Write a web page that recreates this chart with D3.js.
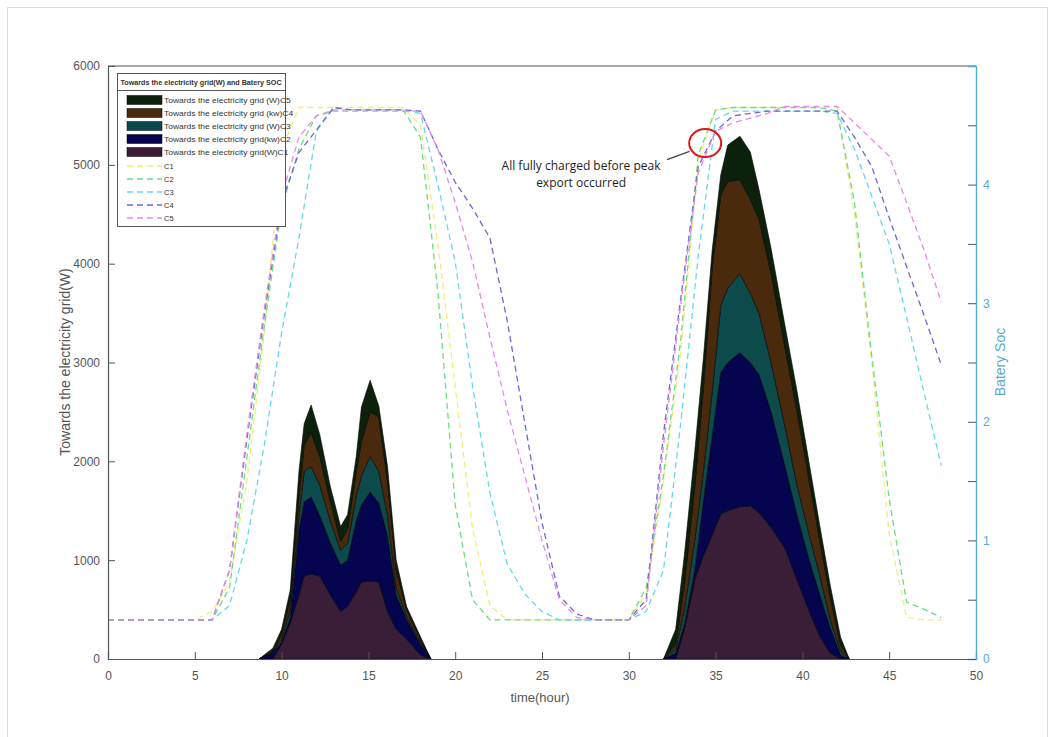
<!DOCTYPE html>
<html><head><meta charset="utf-8">
<script src="https://cdn.jsdelivr.net/npm/d3@7"></script>
<style>
body{margin:0;background:#fff;}
svg{display:block;font-family:"Liberation Sans",Arial,sans-serif;}
</style>
</head><body>
<svg id="c" width="1055" height="737"></svg>
<script>
// ---------- DATA ----------
// Stacked export to grid (W), per community
const areaTime = [8.7, 9.5, 10.0, 10.5, 11.0, 11.3, 11.7, 12.2, 12.8, 13.4, 13.8, 14.3, 14.6, 15.1, 15.6, 16.1, 16.6, 17.2, 18.0, 18.6,
                  32.0, 32.7, 33.2, 33.8, 34.3, 34.8, 35.3, 35.7, 36.4, 37.0, 37.5, 38.2, 39.0, 39.7, 40.4, 41.0, 41.6, 42.2, 42.7];
const gridC1 = [0, 0, 150, 360, 650, 840, 860, 840, 650, 480, 530, 680, 780, 790, 780, 480, 300, 200, 40, 0,
                0, 0, 300, 800, 1050, 1250, 1470, 1500, 1540, 1550, 1480, 1330, 1120, 800, 480, 230, 60, 0, 0];
const gridC2 = [0, 60, 20, 60, 650, 750, 780, 610, 530, 470, 470, 720, 780, 900, 800, 770, 350, 200, 110, 0,
                0, 60, 50, 100, 550, 1000, 1430, 1500, 1560, 1450, 1400, 1170, 830, 650, 520, 420, 260, 40, 0];
const gridC3 = [0, 10, 30, 80, 150, 310, 305, 310, 220, 150, 170, 250, 290, 360, 320, 200, 70, 30, 20, 0,
                0, 40, 150, 300, 300, 450, 680, 750, 800, 700, 620, 500, 400, 300, 250, 200, 80, 40, 0];
const gridC4 = [0, 10, 50, 100, 200, 260, 345, 290, 200, 90, 140, 250, 350, 450, 550, 350, 180, 70, 30, 0,
                0, 50, 250, 550, 850, 1250, 1120, 1080, 950, 950, 950, 900, 800, 750, 550, 350, 230, 60, 0];
const gridC5 = [0, 30, 50, 100, 250, 220, 280, 220, 150, 150, 150, 150, 350, 320, 110, 150, 100, 30, 25, 0,
                0, 150, 300, 350, 300, 180, 200, 370, 440, 480, 300, 250, 220, 200, 170, 150, 120, 80, 0];

// Battery SOC (right axis), hourly
const socTime = [0,1,2,3,4,5,6,7,8,9,10,11,12,13,14,15,16,17,18,19,20,21,22,23,24,25,26,27,28,29,30,
                 31,32,33,34,35,36,37,38,39,40,41,42,43,44,45,46,47,48];
const socC1 = [0.33,0.33,0.33,0.33,0.33,0.33,0.4,0.65,1.5,2.75,4.3,4.65,4.65,4.65,4.65,4.65,4.65,4.65,4.5,3.5,2.3,1.1,0.45,0.33,0.33,0.33,0.33,0.33,0.33,0.33,0.33,
               0.55,1.5,2.6,4.2,4.63,4.65,4.65,4.65,4.65,4.65,4.65,4.65,3.75,2.5,1.05,0.35,0.33,0.33];
const socC2 = [0.33,0.33,0.33,0.33,0.33,0.33,0.33,0.6,1.7,2.8,3.8,4.3,4.58,4.63,4.63,4.63,4.63,4.63,4.4,3.1,1.3,0.5,0.33,0.33,0.33,0.33,0.33,0.33,0.33,0.33,0.33,
               0.6,1.55,2.7,4.25,4.63,4.65,4.65,4.65,4.65,4.65,4.65,4.62,3.85,2.55,1.35,0.48,0.42,0.35];
const socC3 = [0.33,0.33,0.33,0.33,0.33,0.33,0.33,0.45,1.0,1.8,2.75,3.55,4.45,4.65,4.63,4.63,4.63,4.63,4.6,4.0,3.35,2.3,1.4,0.8,0.55,0.4,0.33,0.33,0.33,0.33,0.33,
               0.4,0.75,2.0,3.4,4.55,4.62,4.62,4.62,4.62,4.62,4.62,4.6,4.3,3.9,3.5,2.88,2.25,1.63];
const socC4 = [0.33,0.33,0.33,0.33,0.33,0.33,0.33,0.75,1.85,2.9,3.85,4.27,4.46,4.65,4.63,4.63,4.63,4.63,4.62,4.3,4.02,3.8,3.55,2.85,2.0,1.15,0.53,0.38,0.33,0.33,0.33,
               0.5,1.9,3.05,4.15,4.45,4.58,4.6,4.62,4.62,4.62,4.62,4.62,4.4,4.15,3.72,3.31,2.9,2.48];
const socC5 = [0.33,0.33,0.33,0.33,0.33,0.33,0.33,0.75,1.9,2.95,3.9,4.4,4.58,4.62,4.62,4.62,4.62,4.62,4.62,4.3,3.85,3.35,2.71,2.1,1.55,1.0,0.5,0.35,0.33,0.33,0.33,
               0.45,1.8,3.0,4.1,4.45,4.52,4.56,4.6,4.66,4.66,4.66,4.66,4.52,4.38,4.24,3.85,3.45,3.01];

const xTicks = [0,5,10,15,20,25,30,35,40,45,50];
const yLeftTicks = [0,1000,2000,3000,4000,5000,6000];
const yRightTicks = [0,0.5,1,1.5,2,2.5,3,3.5,4,4.5];
const areaKeys = ["C1","C2","C3","C4","C5"];
const areaLabels = ["Towards the electricity grid (W)C5","Towards the electricity grid (kw)C4","Towards the electricity grid (W)C3","Towards the electricity grid(kw)C2","Towards the electricity grid(W)C1"];
const lineLabels = ["C1","C2","C3","C4","C5"];

// ---------- STYLE ----------
const areaColors = {C1:"#3a1d37", C2:"#05044f", C3:"#0d4a4b", C4:"#4a2a0d", C5:"#0c210c"};
const lineColors = {C1:"#eeee7a", C2:"#6edb84", C3:"#66d6ee", C4:"#6a68d4", C5:"#e68ae6"};
const axisGray = "#555";
const blue = "#55a9d6";

const svg = d3.select("#c");
const x = d3.scaleLinear().domain([0,50]).range([108,976]);
const yL = d3.scaleLinear().domain([0,6000]).range([659,66]);
const yR = d3.scaleLinear().domain([0,5]).range([659,66]);

// outer faint frame
svg.append("rect").attr("x",7.5).attr("y",7.5).attr("width",1040).attr("height",740)
  .attr("fill","none").attr("stroke","#dedede");

// ---------- AREAS ----------
const rows = areaTime.map((t,i)=>({t, C1:gridC1[i], C2:gridC2[i], C3:gridC3[i], C4:gridC4[i], C5:gridC5[i]}));
const stacked = d3.stack().keys(areaKeys)(rows);
const area = d3.area().x(d=>x(d.data.t)).y0(d=>yL(d[0])).y1(d=>yL(d[1]));
const gA = svg.append("g");
stacked.forEach(layer=>{
  [layer.filter(d=>d.data.t<25), layer.filter(d=>d.data.t>25)].forEach(seg=>{
    gA.append("path").attr("d",area(seg)).attr("fill",areaColors[layer.key])
      .attr("stroke","#000").attr("stroke-width",0.6).attr("stroke-linejoin","round");
  });
});

// ---------- SOC LINES ----------
const socSeries = [["C1",socC1],["C2",socC2],["C3",socC3],["C4",socC4],["C5",socC5]];
const line = d3.line().x((d,i)=>x(socTime[i])).y(d=>yR(d));
const gL = svg.append("g");
socSeries.forEach(([k,v])=>{
  gL.append("path").attr("d",line(v)).attr("fill","none").attr("stroke",lineColors[k])
    .attr("stroke-width",1.3).attr("stroke-dasharray","6,4");
});

// ---------- AXES ----------
const xAxis = d3.axisBottom(x).tickValues(xTicks).tickSize(-7).tickPadding(12).tickFormat(d3.format("d"));
const gx = svg.append("g").attr("transform","translate(0,659)").call(xAxis);
const yAxisL = d3.axisLeft(yL).tickValues(yLeftTicks).tickSize(-7).tickPadding(8).tickFormat(d3.format("d"));
const gy = svg.append("g").attr("transform","translate(108,0)").call(yAxisL);
[gx,gy].forEach(g=>{
  g.select(".domain").attr("stroke",axisGray).attr("stroke-width",1.2);
  g.selectAll(".tick line").attr("stroke",axisGray).attr("stroke-width",1);
  g.selectAll(".tick text").attr("fill",axisGray).attr("font-size",12).attr("font-family","Liberation Sans, Arial, sans-serif");
});
// top frame
svg.append("line").attr("x1",108).attr("x2",976).attr("y1",66).attr("y2",66).attr("stroke",axisGray).attr("stroke-width",1.2);

const yAxisR = d3.axisRight(yR).tickValues(yRightTicks).tickSize(-8).tickPadding(7)
  .tickFormat(d=> Number.isInteger(d) ? d : "");
const gyr = svg.append("g").attr("transform","translate(976,0)").call(yAxisR);
gyr.select(".domain").attr("stroke",blue).attr("stroke-width",1.4);
gyr.selectAll(".tick line").attr("stroke",axisGray).attr("stroke-width",1);
gyr.selectAll(".tick text").attr("fill",blue).attr("font-size",12).attr("font-family","Liberation Sans, Arial, sans-serif");

// axis titles
svg.append("text").attr("x",540).attr("y",702).attr("text-anchor","middle")
  .attr("fill",axisGray).attr("font-size",13).text("time(hour)");
svg.append("text").attr("transform","translate(70,362) rotate(-90)").attr("text-anchor","middle")
  .attr("fill",axisGray).attr("font-size",14).text("Towards the electricity grid(W)");
svg.append("text").attr("transform","translate(1005,362) rotate(-90)").attr("text-anchor","middle")
  .attr("fill",blue).attr("font-size",14).text("Batery Soc");

// ---------- ANNOTATION ----------
const ann = svg.append("g");
ann.append("ellipse").attr("cx",x(34.4)).attr("cy",yR(4.35)).attr("rx",16).attr("ry",14)
  .attr("fill","none").attr("stroke","#e0141b").attr("stroke-width",2);
ann.append("line").attr("x1",x(32.2)).attr("y1",yR(4.21)).attr("x2",x(33.5)).attr("y2",yR(4.28))
  .attr("stroke","#444").attr("stroke-width",1.3);
ann.append("text").attr("x",x(27.25)).attr("y",yL(4950)).attr("text-anchor","middle")
  .attr("font-family","Open Sans, sans-serif").attr("font-size",12).attr("fill","#1e1e1e")
  .text("All fully charged before peak");
ann.append("text").attr("x",x(27.25)).attr("y",yL(4780)).attr("text-anchor","middle")
  .attr("font-family","Open Sans, sans-serif").attr("font-size",12).attr("fill","#1e1e1e")
  .text("export occurred");

// ---------- LEGEND ----------
const lg = svg.append("g");
lg.append("rect").attr("x",117.5).attr("y",73.5).attr("width",168).attr("height",153)
  .attr("fill","#fff").attr("stroke","#555").attr("stroke-width",1);
lg.append("line").attr("x1",117.5).attr("x2",285.5).attr("y1",90.5).attr("y2",90.5).attr("stroke","#555");
lg.append("text").attr("x",201).attr("y",85).attr("text-anchor","middle").attr("font-size",7.2)
  .attr("font-weight","bold").attr("fill","#333").text("Towards the electricity grid(W) and Batery SOC");
const swatchOrder = ["C5","C4","C3","C2","C1"];
swatchOrder.forEach((k,i)=>{
  const yy = 100 + i*13;
  lg.append("rect").attr("x",127).attr("y",yy-4.5).attr("width",35).attr("height",9)
    .attr("fill",areaColors[k]).attr("stroke","#000").attr("stroke-width",0.5);
  const t = lg.append("text").attr("x",164).attr("y",yy+2.5).attr("font-size",7.2).attr("fill","#333").text(areaLabels[i]);
  const w = t.node().getComputedTextLength();
  t.attr("textLength", w*1.18).attr("lengthAdjust","spacingAndGlyphs");
});
lineLabels.forEach((k,i)=>{
  const yy = 166 + i*13;
  lg.append("line").attr("x1",127).attr("x2",162).attr("y1",yy).attr("y2",yy)
    .attr("stroke",lineColors[k]).attr("stroke-width",1.3).attr("stroke-dasharray","6,4");
  lg.append("text").attr("x",164).attr("y",yy+2.5).attr("font-size",7.5).attr("fill","#333").text(k);
});
</script>
</body></html>
